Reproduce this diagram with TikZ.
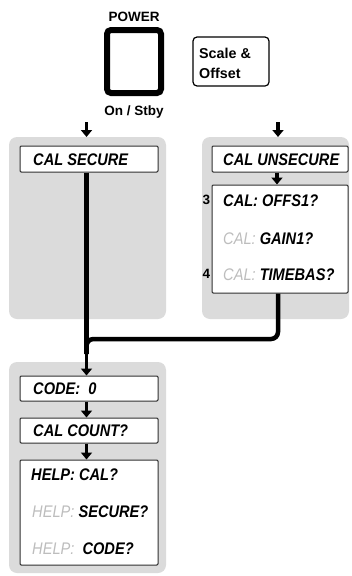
\documentclass[tikz,border=0pt]{standalone}
\usepackage{fontspec}
\setmainfont{Liberation Sans}
\newfontfamily\bfont{Liberation Sans}[FakeStretch=0.87]
\usetikzlibrary{arrows.meta}
\definecolor{panelgray}{HTML}{DBDBDB}
\definecolor{txtgray}{HTML}{BDBDBD}
\definecolor{boxline}{HTML}{303030}
\newcommand{\bt}{\fontsize{16.8}{18}\selectfont\bfont\bfseries\itshape}
\newcommand{\gt}[1]{{\color{txtgray}\mdseries #1}}
\begin{document}
\begin{tikzpicture}[x=1pt,y=-1pt,
  panel/.style={fill=panelgray, draw=none, rounded corners=8pt, inner sep=0pt},
  dbox/.style={draw=boxline, fill=white, line width=1pt, rounded corners=1.2pt, inner sep=0pt},
  btxt/.style={anchor=base west, inner sep=0pt, font=\bt},
  ltxt/.style={inner sep=0pt, font=\fontsize{13.5}{15}\selectfont\bfseries},
  arr/.style={line width=3.8pt, -{Triangle[width=11pt,length=7pt]}},
  conn/.style={line width=4.5pt}
]
\useasboundingbox (0,0) rectangle (351,576);

% panels
\node[panel, minimum width=157pt, minimum height=182pt] (lp) at (87.5,228) {};
\node[panel, minimum width=147pt, minimum height=182pt] (rp) at (275.5,228) {};
\node[panel, minimum width=157pt, minimum height=211pt] (bp) at (87.5,467.5) {};

% top controls
\node[ltxt] (power) at (134,17) {POWER};
\node[draw=black, line width=6pt, rounded corners=4pt, minimum width=54pt, minimum height=63pt, inner sep=0pt] (pbtn) at (134,61.5) {};
\node[ltxt] (stby) at (134,112) {On / Stby};
\node[draw=black, line width=1.2pt, rounded corners=4pt, minimum width=76pt, minimum height=49pt, inner sep=0pt] (sbtn) at (231,61.5) {};
\node[anchor=base west, inner sep=0pt, font=\fontsize{14.3}{16}\selectfont\bfseries] (scl) at (199,58.3) {Scale \&};
\node[anchor=base west, inner sep=0pt, font=\fontsize{14.3}{16}\selectfont\bfseries] (off) at (199,78.5) {Offset};

% boxes
\node[dbox, minimum width=138pt, minimum height=26pt] (secure) at (89,159) {};
\node[dbox, minimum width=136pt, minimum height=26pt] (unsecure) at (280,159) {};
\node[dbox, minimum width=136pt, minimum height=108pt] (calq) at (280,239) {};
\node[dbox, minimum width=138pt, minimum height=25pt] (code) at (89,388.5) {};
\node[dbox, minimum width=138pt, minimum height=25pt] (count) at (89,430.5) {};
\node[dbox, minimum width=138pt, minimum height=105pt] (help) at (89,512.5) {};

% texts
\node[btxt] (t1) at (33,165) {CAL SECURE};
\node[btxt] (t2) at (223,165) {CAL UNSECURE};
\node[btxt] (t3) at (223,206) {CAL: OFFS1?};
\node[btxt] (t4) at (223,244) {\gt{CAL:} GAIN1?};
\node[btxt] (t5) at (223,280) {\gt{CAL:} TIMEBAS?};
\node[ltxt] (n3) at (206.5,200) {3};
\node[ltxt] (n4) at (206.5,274) {4};
\node[btxt] (t6) at (33,394.5) {CODE:~~0};
\node[btxt] (t7) at (33,436.5) {CAL COUNT?};
\node[btxt] (t8) at (31,480.5) {HELP: CAL?};
\node[btxt] (t9) at (32,517.5) {\gt{HELP:} SECURE?};
\node[btxt] (t10) at (32,554.5) {\gt{HELP:}~~CODE?};

% free arrows at top
\coordinate (la1) at (86.5,122);
\coordinate (la2) at (86.5,137);
\coordinate (ra1) at (278,122);
\coordinate (ra2) at (278,137);
\draw[arr] (la1) -- (la2);
\draw[arr] (ra1) -- (ra2);

% internal arrows
\draw[arr] ([xshift=-3pt]unsecure.south) -- ([xshift=-3pt]calq.north);
\draw[arr] ([xshift=-2.5pt]code.south) -- ([xshift=-2.5pt]count.north);
\draw[arr] ([xshift=-2.5pt]count.south) -- ([xshift=-2.5pt]help.north);

% main connectors
\coordinate (merge) at (86.5,339);
\coordinate (mergedown) at (86.5,354);
\draw[conn, rounded corners=7pt] ([xshift=-2pt]calq.south) -- ([xshift=-2pt]calq.south |- merge) -- (merge) -- (mergedown);
\draw[conn] ([xshift=-2.5pt]secure.south) -- (mergedown);
\draw[arr] (mergedown) -- ([xshift=-2.5pt]code.north);
\end{tikzpicture}
\end{document}
